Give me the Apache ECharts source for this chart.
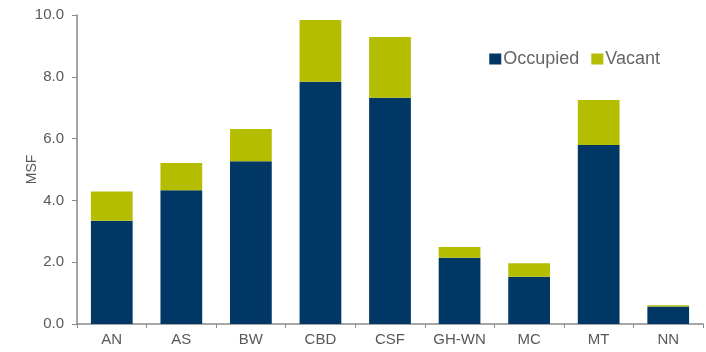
<!DOCTYPE html>
<html><head><meta charset="utf-8">
<script src="https://cdn.jsdelivr.net/npm/echarts@6/dist/echarts.min.js"></script>
<style>html,body{margin:0;padding:0;background:#fff}#c{width:706px;height:352px}</style>
</head><body><div id="c"></div>
<script>
const categories = ['AN','AS','BW','CBD','CSF','GH-WN','MC','MT','NN'];
const occupied = [3.34, 4.33, 5.27, 7.84, 7.32, 2.14, 1.53, 5.79, 0.57];
const vacant = [0.95, 0.88, 1.04, 2.00, 1.97, 0.35, 0.44, 1.46, 0.04];
const yTicks = [0, 2, 4, 6, 8, 10];
const chart = echarts.init(document.getElementById('c'));
const font = 'Liberation Sans, Arial, sans-serif';
chart.setOption({
  animation: false,
  grid: {left: 77, right: 3, top: 15, bottom: 28},
  legend: {
    right: 41, top: 45, itemWidth: 12, itemHeight: 11, itemGap: 12,
    icon: 'rect',
    textStyle: {fontFamily: font, fontSize: 18, color: '#666666', padding: [0,0,0,-3]},
    data: ['Occupied', 'Vacant']
  },
  xAxis: {
    type: 'category', data: categories,
    axisLine: {lineStyle: {color: '#898989', width: 1.5}},
    axisTick: {show: true, lineStyle: {color: '#898989'}, length: 4, inside: false},
    axisLabel: {fontFamily: font, fontSize: 15, color: '#595959', margin: 8}
  },
  yAxis: {
    type: 'value', min: yTicks[0], max: yTicks[yTicks.length-1], interval: 2,
    name: 'MSF', nameLocation: 'middle', nameGap: 38, nameRotate: 90,
    nameMoveOverlap: false,
    nameTextStyle: {fontFamily: font, fontSize: 14, color: '#595959'},
    axisLine: {show: true, lineStyle: {color: '#898989', width: 1.5}},
    axisTick: {show: true, length: 5, lineStyle: {color: '#898989'}},
    splitLine: {show: false},
    axisLabel: {fontFamily: font, fontSize: 15, color: '#595959', margin: 13,
      formatter: v => v.toFixed(1)}
  },
  series: [
    {name: 'Occupied', type: 'bar', stack: 's', data: occupied, barCategoryGap: '40%',
     itemStyle: {color: '#003764'}},
    {name: 'Vacant', type: 'bar', stack: 's', data: vacant, barCategoryGap: '40%',
     itemStyle: {color: '#B5BD00'}}
  ]
});
</script></body></html>
